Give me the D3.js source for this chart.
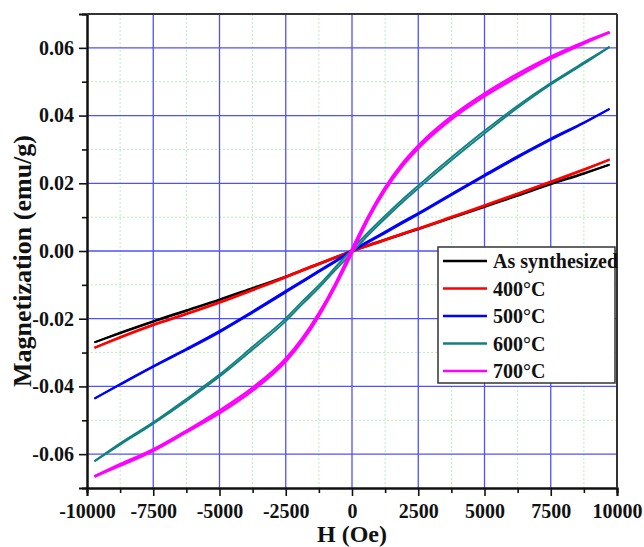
<!DOCTYPE html>
<html><head><meta charset="utf-8">
<script src="https://cdn.jsdelivr.net/npm/d3@7/dist/d3.min.js"></script>
<style>body{margin:0;background:#fff}svg{display:block}</style>
</head><body>
<svg id="c" width="644" height="547"></svg>
<script>
// ---- data ----
const fieldH = [-9720,-8750,-7500,-6250,-5000,-3750,-2500,-1875,-1250,-625,0,625,1250,1875,2500,3750,5000,6250,7500,8750,9720];
const seriesNames = ["As synthesized","400°C","500°C","600°C","700°C"];
const seriesColors = ["#000000","#ff0000","#0000ff","#138080","#ff00ff"];
// descending branch (from +H max to -H max) and ascending branch
const asSynDesc = [-0.0270,-0.0241,-0.0207,-0.0175,-0.0143,-0.0109,-0.0075,-0.0056,-0.0037,-0.0018,0.0001,0.0018,0.0034,0.0050,0.0066,0.0099,0.0132,0.0165,0.0199,0.0230,0.0255];
const asSynAsc  = [-0.0270,-0.0243,-0.0209,-0.0177,-0.0145,-0.0111,-0.0077,-0.0058,-0.0039,-0.0020,-0.0001,0.0016,0.0032,0.0048,0.0064,0.0097,0.0130,0.0163,0.0197,0.0228,0.0255];
const c400Desc = [-0.0286,-0.0254,-0.0217,-0.0185,-0.0151,-0.0114,-0.0076,-0.0056,-0.0037,-0.0018,0.0001,0.0018,0.0034,0.0051,0.0067,0.0101,0.0135,0.0170,0.0205,0.0241,0.0270];
const c400Asc  = [-0.0286,-0.0256,-0.0219,-0.0187,-0.0153,-0.0116,-0.0078,-0.0058,-0.0039,-0.0020,-0.0001,0.0016,0.0032,0.0049,0.0065,0.0099,0.0133,0.0168,0.0203,0.0239,0.0270];
const c500Desc = [-0.0436,-0.0393,-0.0340,-0.0289,-0.0236,-0.0178,-0.0118,-0.0088,-0.0058,-0.0028,0.0002,0.0030,0.0057,0.0085,0.0112,0.0169,0.0225,0.0280,0.0332,0.0380,0.0420];
const c500Asc  = [-0.0436,-0.0395,-0.0342,-0.0292,-0.0240,-0.0182,-0.0122,-0.0092,-0.0062,-0.0032,-0.0002,0.0026,0.0053,0.0081,0.0108,0.0165,0.0221,0.0276,0.0328,0.0378,0.0420];
const c600Desc = [-0.0621,-0.0568,-0.0506,-0.0437,-0.0365,-0.0283,-0.0199,-0.0149,-0.0101,-0.0048,0.0005,0.0056,0.0104,0.0150,0.0193,0.0276,0.0355,0.0429,0.0496,0.0557,0.0603];
const c600Asc  = [-0.0621,-0.0572,-0.0510,-0.0443,-0.0371,-0.0291,-0.0207,-0.0157,-0.0109,-0.0056,-0.0005,0.0048,0.0096,0.0142,0.0185,0.0268,0.0347,0.0423,0.0492,0.0553,0.0603];
const c700Desc = [-0.0666,-0.0630,-0.0586,-0.0531,-0.0471,-0.0404,-0.0318,-0.0258,-0.0184,-0.0096,0.0006,0.0104,0.0188,0.0256,0.0311,0.0397,0.0465,0.0523,0.0574,0.0617,0.0646];
const c700Asc  = [-0.0666,-0.0634,-0.0590,-0.0535,-0.0479,-0.0412,-0.0326,-0.0266,-0.0192,-0.0104,-0.0006,0.0096,0.0180,0.0248,0.0303,0.0389,0.0457,0.0515,0.0568,0.0613,0.0646];
const branches = [[asSynDesc,asSynAsc],[c400Desc,c400Asc],[c500Desc,c500Asc],[c600Desc,c600Asc],[c700Desc,c700Asc]];
const xTicks = [-10000,-7500,-5000,-2500,0,2500,5000,7500,10000];
const xMinor = [-8750,-6250,-3750,-1250,1250,3750,6250,8750];
const yTicks = [-0.06,-0.04,-0.02,0.00,0.02,0.04,0.06];
const yMinor = [-0.05,-0.03,-0.01,0.01,0.03,0.05];

// ---- layout ----
const L=87,R=617,T=14,B=488;
const svg=d3.select("#c");
const x=d3.scaleLinear().domain([-10000,10000]).range([L,R]);
const y=d3.scaleLinear().domain([-0.07,0.07]).range([B,T]);
const font="'Times New Roman','Liberation Serif',Tinos,serif";
const loc=d3.formatLocale({decimal:".",thousands:"",grouping:[3],currency:["",""],minus:"-"});

// minor grid
const g=svg.append("g");
g.selectAll("line.mx").data(xMinor).join("line").attr("x1",d=>x(d)).attr("x2",d=>x(d)).attr("y1",T).attr("y2",B)
 .attr("stroke","#b8f0b8").attr("stroke-width",1).attr("stroke-dasharray","2,2");
g.selectAll("line.my").data(yMinor).join("line").attr("y1",d=>y(d)).attr("y2",d=>y(d)).attr("x1",L).attr("x2",R)
 .attr("stroke","#b8f0b8").attr("stroke-width",1).attr("stroke-dasharray","2,2");
// major grid
g.selectAll("line.Mx").data(xTicks.filter(d=>d>-10000&&d<10000)).join("line").attr("x1",d=>x(d)).attr("x2",d=>x(d)).attr("y1",T).attr("y2",B)
 .attr("stroke","#5050ff").attr("stroke-width",1.3);
g.selectAll("line.My").data(yTicks).join("line").attr("y1",d=>y(d)).attr("y2",d=>y(d)).attr("x1",L).attr("x2",R)
 .attr("stroke","#5050ff").attr("stroke-width",1.3);

// curves
const line=d3.line().x((d,i)=>x(fieldH[i])).y(d=>y(d)).curve(d3.curveMonotoneX);
const widths=[2,2.2,2,1.9,2.6];
branches.forEach((br,k)=>{
  br.forEach(arr=>{
    svg.append("path").attr("d",line(arr)).attr("fill","none").attr("stroke",seriesColors[k]).attr("stroke-width",widths[k]);
  });
});

// axes
const xAxis=svg.append("g").attr("transform",`translate(0,${B})`)
 .call(d3.axisBottom(x).tickValues(xTicks).tickSize(8).tickFormat(loc.format("d")));
const xAxisMinor=svg.append("g").attr("transform",`translate(0,${B})`)
 .call(d3.axisBottom(x).tickValues(xMinor).tickSize(5).tickFormat(""));
const yAxis=svg.append("g").attr("transform",`translate(${L},0)`)
 .call(d3.axisLeft(y).tickValues(yTicks).tickSize(8).tickFormat(loc.format(".2f")));
const yAxisMinor=svg.append("g").attr("transform",`translate(${L},0)`)
 .call(d3.axisLeft(y).tickValues(yMinor).tickSize(5).tickFormat(""));
[xAxis,xAxisMinor,yAxis,yAxisMinor].forEach(a=>{
  a.attr("font-family",font);
  a.select(".domain").attr("stroke","#111").attr("stroke-width",2);
  a.selectAll(".tick line").attr("stroke","#111").attr("stroke-width",1.6);
});
xAxis.selectAll(".tick text").attr("font-family",font).attr("font-weight","bold").attr("font-size",20).attr("fill","#111").attr("y",16).attr("dy","0.71em");
yAxis.selectAll(".tick text").attr("font-family",font).attr("font-weight","bold").attr("font-size",20).attr("fill","#111").attr("x",-13);

// frame top/right
svg.append("line").attr("x1",L).attr("x2",R).attr("y1",T).attr("y2",T).attr("stroke","#333").attr("stroke-width",2);
svg.append("line").attr("x1",R).attr("x2",R).attr("y1",T).attr("y2",B).attr("stroke","#333").attr("stroke-width",2);

// titles
svg.append("text").attr("x",352).attr("y",542).attr("text-anchor","middle").attr("font-family",font).attr("font-weight","bold").attr("font-size",24).attr("fill","#111").text("H (Oe)");
svg.append("text").attr("transform","translate(31,261) rotate(-90)").attr("text-anchor","middle").attr("font-family",font).attr("font-weight","bold").attr("font-size",26).attr("fill","#111").text("Magnetization (emu/g)");

// legend
const lg=svg.append("g");
lg.append("rect").attr("x",438).attr("y",247).attr("width",177).attr("height",136).attr("fill","#fff").attr("stroke","#333").attr("stroke-width",1.5);
seriesNames.forEach((n,i)=>{
  const yy=261+i*27.5;
  lg.append("line").attr("x1",443).attr("x2",487).attr("y1",yy).attr("y2",yy).attr("stroke",seriesColors[i]).attr("stroke-width",2.5);
  lg.append("text").attr("x",493).attr("y",yy).attr("dy","0.35em").attr("font-family",font).attr("font-weight","bold").attr("font-size",20).attr("fill","#111").text(n);
});
</script>
</body></html>
